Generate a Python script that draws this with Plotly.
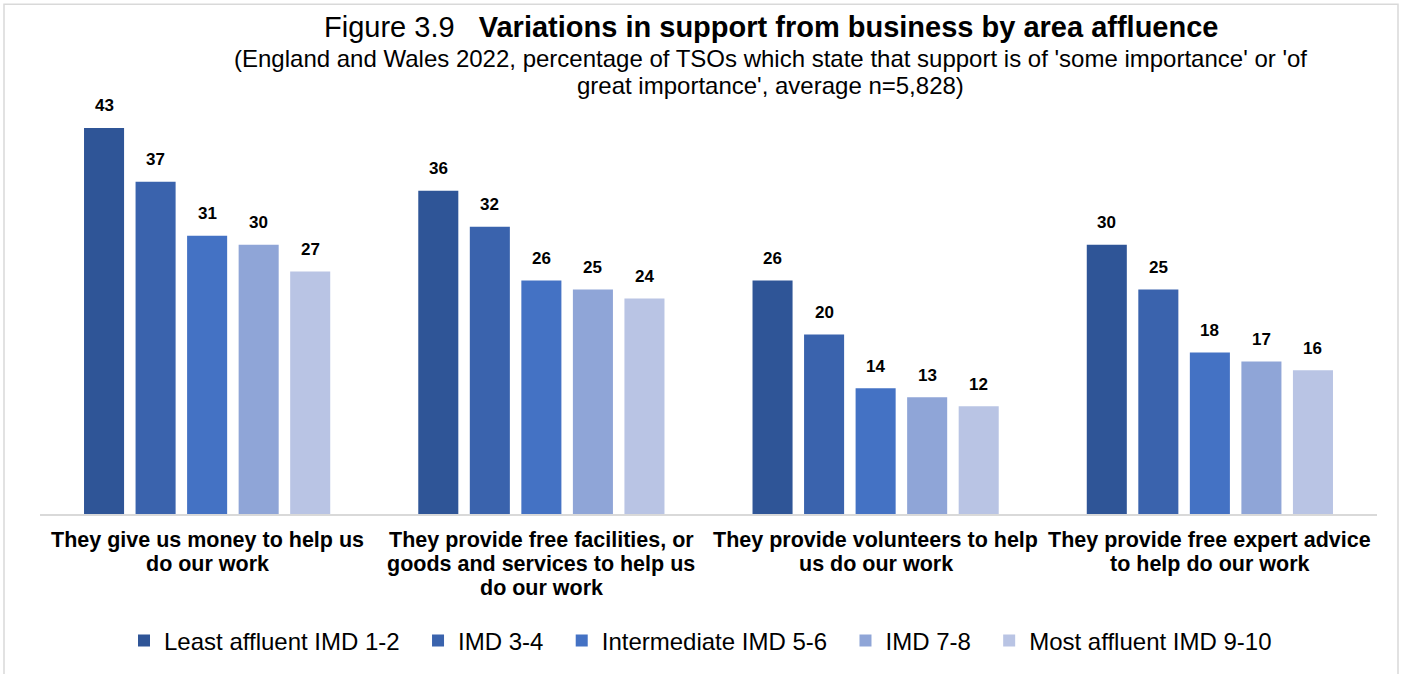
import plotly.graph_objects as go

categories = [
    "They give us money to help us<br>do our work",
    "They provide free facilities, or<br>goods and services to help us<br>do our work",
    "They provide volunteers to help<br>us do our work",
    "They provide free expert advice<br>to help do our work",
]
series_names = [
    "Least affluent IMD 1-2",
    "IMD 3-4",
    "Intermediate IMD 5-6",
    "IMD 7-8",
    "Most affluent IMD 9-10",
]
least_affluent = [43, 36, 26, 30]
imd_3_4 = [37, 32, 20, 25]
intermediate = [31, 26, 14, 18]
imd_7_8 = [30, 25, 13, 17]
most_affluent = [27, 24, 12, 16]
series_values = [least_affluent, imd_3_4, intermediate, imd_7_8, most_affluent]
colors = ["#2F5597", "#3A63AD", "#4472C4", "#8FA5D7", "#B9C4E4"]

FONT = "Liberation Sans, Arial, sans-serif"

# layout geometry (pixels)
W, H = 1405, 674
M_L, M_R, M_T, M_B = 40, 28, 110, 159
PLOT_W = W - M_L - M_R
PLOT_H = H - M_T - M_B
BARGAP, BARGROUPGAP = 0.229, 0.223


def py(pixel_y):
    """Convert a page y pixel into paper coordinates."""
    return (H - M_B - pixel_y) / PLOT_H


def px(pixel_x):
    """Convert a page x pixel into paper coordinates."""
    return (pixel_x - M_L) / PLOT_W


fig = go.Figure()
for name, vals, col in zip(series_names, series_values, colors):
    fig.add_trace(go.Bar(
        x=categories, y=vals, name=name + "\u00a0\u00a0",
        marker=dict(color=col, line=dict(width=0)),
        hovertemplate="%{y}<extra>" + name + "</extra>",
    ))

# value labels above each bar
slot = PLOT_W / len(categories) * (1 - BARGAP) / len(series_names)
for i, vals in enumerate(series_values):
    offset = (i - (len(series_names) - 1) / 2) * slot
    for cat, v in zip(categories, vals):
        fig.add_annotation(x=cat, y=v, xref="x", yref="y", text=f"<b>{v}</b>",
                           showarrow=False, xanchor="center", yanchor="middle",
                           xshift=offset, yshift=22,
                           font=dict(family=FONT, size=17, color="#000000"))

# category labels, one line at a time for tight line spacing
for cat in categories:
    for k, line in enumerate(cat.split("<br>")):
        fig.add_annotation(x=cat, xref="x", yref="paper", y=py(541 + 24 * k),
                           text=f"<b>{line}</b>", showarrow=False,
                           xanchor="center", yanchor="middle",
                           font=dict(family=FONT, size=21.5, color="#000000"))

fig.update_layout(
    width=W, height=H,
    margin=dict(l=M_L, r=M_R, t=M_T, b=M_B),
    paper_bgcolor="white", plot_bgcolor="white",
    barmode="group", bargap=BARGAP, bargroupgap=BARGROUPGAP,
    font=dict(family=FONT, color="#000000"),
    showlegend=True,
    legend=dict(orientation="h", x=px(707), xanchor="center", y=py(641), yanchor="middle",
                font=dict(family=FONT, size=24, color="#000000"),
                itemwidth=30, traceorder="normal", itemclick=False, itemdoubleclick=False),
    xaxis=dict(showgrid=False, showline=True, linecolor="#D9D9D9", linewidth=2,
               ticks="", showticklabels=False),
    yaxis=dict(range=[0, 45], showgrid=False, showticklabels=False, zeroline=False,
               showline=False, ticks=""),
)

# title and subtitle
fig.add_annotation(xref="paper", yref="paper", x=px(770.5), y=py(27),
                   xanchor="center", yanchor="middle", showarrow=False,
                   text="Figure 3.9   <b>Variations in support from business by area affluence</b>",
                   font=dict(family=FONT, size=29, color="#000000"))
subtitle_lines = [
    "(England and Wales 2022, percentage of TSOs which state that support is of 'some importance' or 'of",
    "great importance', average n=5,828)",
]
for k, line in enumerate(subtitle_lines):
    fig.add_annotation(xref="paper", yref="paper", x=px(770.5), y=py(58 + 27 * k),
                       xanchor="center", yanchor="middle", showarrow=False,
                       text=line, font=dict(family=FONT, size=24, color="#000000"))

# light frame around the chart
fig.add_shape(type="rect", xref="paper", yref="paper",
              x0=px(4), x1=px(1398), y0=py(690), y1=py(4),
              line=dict(color="#D9D9D9", width=1.5), fillcolor="rgba(0,0,0,0)", layer="below")

fig.write_html("out.html")
